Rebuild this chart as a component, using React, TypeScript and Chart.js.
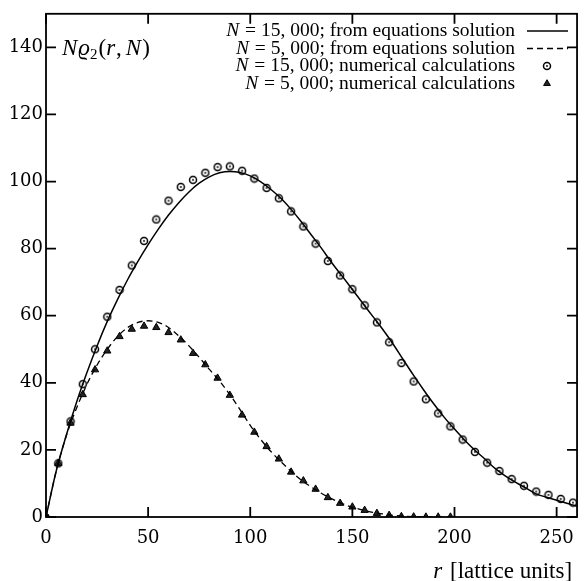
import React, { useEffect, useRef } from "react";
import { Chart, registerables } from "chart.js";
Chart.register(...registerables);

// N = 15,000 numerical calculations (circles)
const rNum15000 = [0, 6, 12, 18, 24, 30, 36, 42, 48, 54, 60, 66, 72, 78, 84, 90, 96, 102, 108, 114, 120, 126, 132, 138, 144, 150, 156, 162, 168, 174, 180, 186, 192, 198, 204, 210, 216, 222, 228, 234, 240, 246, 252, 258];
const rhoNum15000 = [0, 16, 28.5, 39.6, 50, 59.7, 67.7, 75, 82.3, 88.7, 94.3, 98.4, 100.5, 102.6, 104.3, 104.5, 103.2, 100.9, 98.1, 95, 91.1, 86.6, 81.5, 76.3, 72, 67.9, 63.1, 58, 52.1, 45.9, 40.4, 35.1, 30.9, 27, 23.1, 19.4, 16.2, 13.7, 11.3, 9.3, 7.6, 6.6, 5.4, 4.3];

// N = 5,000 numerical calculations (triangles)
const rNum5000 = [0, 6, 12, 18, 24, 30, 36, 42, 48, 54, 60, 66, 72, 78, 84, 90, 96, 102, 108, 114, 120, 126, 132, 138, 144, 150, 156, 162, 168, 174, 180, 186, 192, 198];
const rhoNum5000 = [0, 16, 28, 36.5, 43.9, 49.5, 53.8, 56, 56.9, 56.5, 55, 52.8, 48.8, 45.4, 41.4, 36.3, 30.4, 25.3, 21, 17.3, 13.4, 10.8, 8.3, 5.8, 4.1, 3, 2, 1.1, 0.5, 0.15, 0.05, 0, 0, 0];

// N = 15,000 from equations solution (solid)
const rEq15000 = [0, 5, 10, 15, 20, 25, 30, 35, 40, 45, 50, 55, 60, 65, 70, 75, 80, 85, 90, 95, 100, 105, 110, 115, 120, 125, 130, 135, 140, 145, 150, 155, 160, 165, 170, 175, 180, 185, 190, 195, 200, 205, 210, 215, 220, 225, 230, 235, 240, 245, 250, 255, 260];
const rhoEq15000 = [0, 13.7, 24.5, 34.3, 43, 51, 58.3, 64.8, 70.8, 76.2, 81.2, 85.8, 90, 93.7, 96.9, 99.5, 101.4, 102.6, 103, 102.7, 101.7, 100, 97.7, 95, 91.7, 88, 84, 80, 75.7, 71.8, 67.8, 63.8, 59.8, 55.8, 51.5, 46.8, 42.2, 37.8, 33.6, 29.7, 26.2, 22.9, 19.9, 17.2, 14.4, 12.2, 10.3, 8.6, 6.9, 5.9, 5, 4.1, 3.2];

// N = 5,000 from equations solution (dashed)
const rEq5000 = [0, 5, 10, 15, 20, 25, 30, 35, 40, 45, 50, 55, 60, 65, 70, 75, 80, 85, 90, 95, 100, 105, 110, 115, 120, 125, 130, 135, 140, 145, 150, 155, 160, 165, 170, 175, 180, 185, 190, 195, 200];
const rhoEq5000 = [0, 13.7, 24.3, 32.5, 39.5, 45.3, 50, 53.8, 56.5, 58, 58.5, 58, 56.5, 54, 51, 47.6, 44, 40.5, 36.5, 32, 27.3, 23.2, 19.6, 16.5, 13.6, 11, 8.9, 7, 5.4, 4, 2.9, 2.1, 1.4, 0.9, 0.5, 0.25, 0.1, 0.03, 0, 0, 0];

const xTicks = [0, 50, 100, 150, 200, 250];
const yTicks = [0, 20, 40, 60, 80, 100, 120, 140];

const legendLabels: [string, string][] = [
  ["N", " = 15, 000; from equations solution"],
  ["N", " = 5, 000; from equations solution"],
  ["N", " = 15, 000; numerical calculations"],
  ["N", " = 5, 000; numerical calculations"],
];

const SERIF = "'Liberation Serif', serif";
const TICKFONT = "'DejaVu Serif', serif";

function zip(xs: number[], ys: number[]) {
  return xs.map((x, i) => ({ x, y: ys[i] }));
}

function makeCircleMarker() {
  const c = document.createElement("canvas");
  c.width = 10;
  c.height = 10;
  const g = c.getContext("2d")!;
  g.beginPath();
  g.arc(5, 5, 3.5, 0, Math.PI * 2);
  g.fillStyle = "#fff";
  g.fill();
  g.lineWidth = 1.5;
  g.strokeStyle = "#000";
  g.stroke();
  g.beginPath();
  g.arc(5, 5, 0.9, 0, Math.PI * 2);
  g.fillStyle = "#000";
  g.fill();
  return c;
}

function drawRich(ctx: CanvasRenderingContext2D, parts: [string, boolean, number?][], x: number, y: number, size: number, align: "left" | "right") {
  let total = 0;
  const widths: number[] = [];
  for (const [t, it, extra] of parts) {
    ctx.font = `${it ? "italic " : ""}${size}px ${SERIF}`;
    const w = ctx.measureText(t).width + (extra || 0);
    widths.push(w);
    total += w;
  }
  let cx = align === "right" ? x - total : x;
  ctx.textBaseline = "middle";
  ctx.textAlign = "left";
  parts.forEach(([t, it], i) => {
    ctx.font = `${it ? "italic " : ""}${size}px ${SERIF}`;
    ctx.fillText(t, cx, y);
    cx += widths[i];
  });
  return cx;
}

export default function App() {
  const ref = useRef<HTMLCanvasElement | null>(null);
  useEffect(() => {
    document.body.style.margin = "0";
    const canvas = ref.current!;
    const circleImg = makeCircleMarker();

    const framePlugin = {
      id: "frame",
      afterDraw(chart: any) {
        const ctx: CanvasRenderingContext2D = chart.ctx;
        const a = chart.chartArea;
        const xs = chart.scales.x;
        const ys = chart.scales.y;
        ctx.save();
        ctx.strokeStyle = "#000";
        ctx.lineWidth = 1.8;
        ctx.strokeRect(a.left, a.top, a.right - a.left, a.bottom - a.top);
        const tl = 10;
        ctx.beginPath();
        for (const v of xTicks) {
          const px = xs.getPixelForValue(v);
          ctx.moveTo(px, a.bottom);
          ctx.lineTo(px, a.bottom - tl);
          ctx.moveTo(px, a.top);
          ctx.lineTo(px, a.top + tl);
        }
        for (const v of yTicks) {
          const py = ys.getPixelForValue(v);
          ctx.moveTo(a.left, py);
          ctx.lineTo(a.left + tl, py);
          ctx.moveTo(a.right, py);
          ctx.lineTo(a.right - tl, py);
        }
        ctx.stroke();

        ctx.fillStyle = "#000";
        // y label inside plot
        const ly = ys.getPixelForValue(140) + 2;
        let lx = drawRich(ctx, [["N", true, 1], ["ϱ", true]], a.left + 16, ly, 23, "left");
        ctx.font = `15px ${SERIF}`;
        ctx.textBaseline = "middle";
        ctx.fillText("2", lx, ly + 6);
        lx += ctx.measureText("2").width + 1;
        drawRich(ctx, [["(", false], ["r", true, 1], [",", false, 4], ["N", true, 1], [")", false]], lx, ly, 23, "left");

        // x title
        drawRich(ctx, [["r", true, 2], [" [lattice units]", false]], a.right - 5, 572, 23, "right");

        // legend
        const rowY = [31, 48.5, 66, 83.5];
        legendLabels.forEach((lab, i) => {
          drawRich(ctx, [[lab[0], true, 1], [lab[1], false]], 515, rowY[i], 19.5, "right");
        });
        ctx.lineWidth = 1.5;
        ctx.beginPath();
        ctx.moveTo(527, rowY[0]);
        ctx.lineTo(568, rowY[0]);
        ctx.stroke();
        ctx.setLineDash([6, 4]);
        ctx.lineWidth = 1.3;
        ctx.beginPath();
        ctx.moveTo(527, rowY[1]);
        ctx.lineTo(568, rowY[1]);
        ctx.stroke();
        ctx.setLineDash([]);
        ctx.drawImage(circleImg, 547 - 5, rowY[2] - 5);
        ctx.beginPath();
        ctx.moveTo(547, rowY[3] - 3.8);
        ctx.lineTo(547 + 3.4, rowY[3] + 2);
        ctx.lineTo(547 - 3.4, rowY[3] + 2);
        ctx.closePath();
        ctx.fillStyle = "#222";
        ctx.fill();
        ctx.lineWidth = 1;
        ctx.stroke();
        ctx.restore();
      },
    };

    const chart = new Chart(canvas, {
      type: "scatter",
      data: {
        datasets: [
          {
            label: "N = 15, 000; from equations solution",
            data: zip(rEq15000, rhoEq15000),
            showLine: true,
            borderColor: "#000",
            borderWidth: 1.5,
            pointRadius: 0,
            cubicInterpolationMode: "monotone",
          },
          {
            label: "N = 5, 000; from equations solution",
            data: zip(rEq5000, rhoEq5000),
            showLine: true,
            borderColor: "#000",
            borderWidth: 1.3,
            borderDash: [6, 4],
            pointRadius: 0,
            cubicInterpolationMode: "monotone",
          },
          {
            label: "N = 5, 000; numerical calculations",
            data: zip(rNum5000, rhoNum5000),
            showLine: false,
            pointStyle: "triangle",
            pointRadius: 4.2,
            backgroundColor: "#222",
            borderColor: "#000",
            borderWidth: 1,
          },
          {
            label: "N = 15, 000; numerical calculations",
            data: zip(rNum15000, rhoNum15000),
            showLine: false,
            pointStyle: (c: any) => (c.dataIndex === 0 ? "circle" : circleImg),
            pointRadius: 3.3,
            backgroundColor: "#000",
            borderColor: "#000",
            borderWidth: 1,
          },
        ],
      },
      options: {
        responsive: false,
        animation: false,
        layout: { padding: { top: 8, right: 1, left: 0, bottom: 0 } },
        plugins: {
          legend: { display: false },
          tooltip: { enabled: false },
        },
        scales: {
          x: {
            type: "linear",
            min: 0,
            max: 260,
            afterFit: (s: any) => {
              s.height = 64;
            },
            afterBuildTicks: (s: any) => {
              s.ticks = xTicks.map((v) => ({ value: v }));
            },
            grid: { display: false, drawTicks: false },
            border: { display: false },
            ticks: {
              padding: 11,
              color: "#000",
              maxRotation: 0,
              font: { family: TICKFONT, size: 18 },
            },
          },
          y: {
            type: "linear",
            min: 0,
            max: 150,
            afterFit: (s: any) => {
              s.width = 46;
            },
            afterBuildTicks: (s: any) => {
              s.ticks = yTicks.map((v) => ({ value: v }));
            },
            grid: { display: false, drawTicks: false },
            border: { display: false },
            ticks: {
              padding: 3,
              color: "#000",
              font: { family: TICKFONT, size: 18 },
            },
          },
        },
      },
      plugins: [framePlugin],
    } as any);
    return () => chart.destroy();
  }, []);
  return <canvas ref={ref} width={585} height={581} style={{ display: "block" }} />;
}
